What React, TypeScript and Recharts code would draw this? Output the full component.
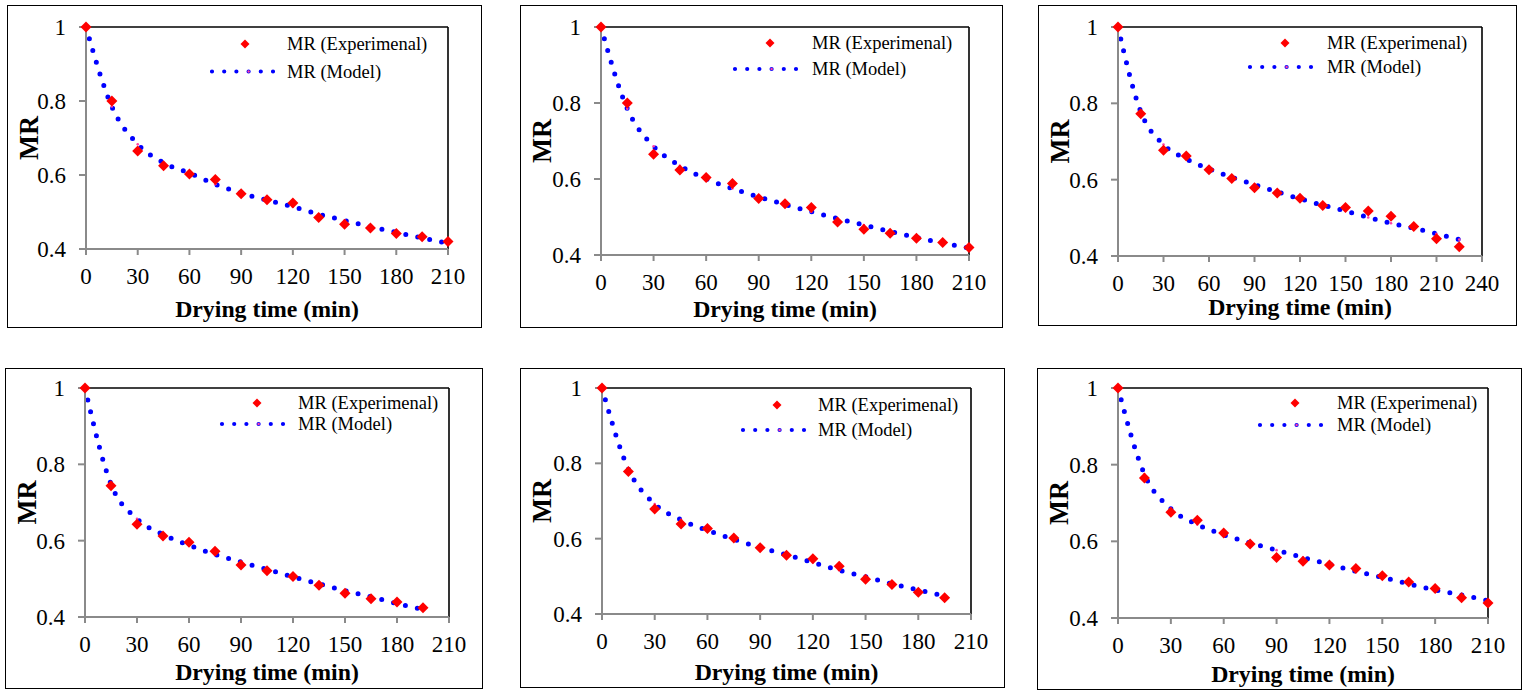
import React from 'react';
import { LineChart, Line, XAxis, YAxis, ReferenceLine, Customized } from 'recharts';

// ---------- data ----------
const TIME_210 = [0, 15, 30, 45, 60, 75, 90, 105, 120, 135, 150, 165, 180, 195, 210];
const TIME_225 = [0, 15, 30, 45, 60, 75, 90, 105, 120, 135, 150, 165, 180, 195, 210, 225];
const TIME_195 = [0, 15, 30, 45, 60, 75, 90, 105, 120, 135, 150, 165, 180, 195];

const TICKS_210 = [0, 30, 60, 90, 120, 150, 180, 210];
const TICKS_240 = [0, 30, 60, 90, 120, 150, 180, 210, 240];
const Y_TICKS = [0.4, 0.6, 0.8, 1];

const EXP_1 = [1.0, 0.8, 0.665, 0.625, 0.603, 0.588, 0.549, 0.533, 0.524, 0.485, 0.467, 0.457, 0.442, 0.433, 0.42];
const MODEL_1 = [1.0, 0.785, 0.683, 0.633, 0.605, 0.575, 0.551, 0.532, 0.514, 0.494, 0.477, 0.46, 0.445, 0.43, 0.415];

const EXP_2 = [1.0, 0.8, 0.665, 0.624, 0.604, 0.588, 0.549, 0.535, 0.525, 0.487, 0.468, 0.457, 0.444, 0.433, 0.42];
const MODEL_2 = [1.0, 0.785, 0.686, 0.635, 0.6, 0.575, 0.553, 0.533, 0.514, 0.496, 0.479, 0.462, 0.446, 0.432, 0.418];

const EXP_3 = [1.0, 0.773, 0.677, 0.662, 0.626, 0.603, 0.579, 0.565, 0.551, 0.532, 0.527, 0.518, 0.504, 0.477, 0.445, 0.424];
const MODEL_3 = [1.0, 0.778, 0.692, 0.654, 0.628, 0.606, 0.587, 0.568, 0.55, 0.533, 0.518, 0.501, 0.486, 0.473, 0.458, 0.443];

const EXP_4 = [1.0, 0.744, 0.643, 0.612, 0.596, 0.572, 0.536, 0.521, 0.506, 0.483, 0.462, 0.448, 0.439, 0.424];
const MODEL_4 = [1.0, 0.748, 0.657, 0.616, 0.588, 0.564, 0.544, 0.525, 0.505, 0.487, 0.469, 0.453, 0.435, 0.42];

const EXP_5 = [1.0, 0.778, 0.679, 0.639, 0.627, 0.602, 0.576, 0.556, 0.547, 0.527, 0.492, 0.478, 0.458, 0.443];
const MODEL_5 = [1.0, 0.785, 0.692, 0.65, 0.622, 0.598, 0.577, 0.557, 0.537, 0.516, 0.499, 0.48, 0.464, 0.448];

const EXP_6 = [1.0, 0.765, 0.676, 0.655, 0.622, 0.593, 0.558, 0.548, 0.538, 0.529, 0.51, 0.494, 0.477, 0.453, 0.439];
const MODEL_6 = [1.0, 0.775, 0.685, 0.644, 0.617, 0.596, 0.577, 0.558, 0.54, 0.522, 0.506, 0.489, 0.473, 0.46, 0.445];

const X_LABEL = 'Drying time (min)';
const Y_LABEL = 'MR';
const LEGEND_EXP = 'MR (Experimenal)';
const LEGEND_MODEL = 'MR (Model)';

// ---------- styling / layout ----------
const FONT = '"Liberation Serif", "Times New Roman", Times, serif';
const AXIS_GRAY = '#8a8a8a';
const RED = '#ff0000';
const BLUE = '#0000ff';
const PINK = '#ff3fa8';

type Box = { x: number; y: number; w: number; h: number };
type Plot = { l: number; t: number; r: number; b: number };
type Leg = { dx: number; ey: number; lx: number; my: number; tx: number };
type PanelCfg = {
  times: number[];
  exp: number[];
  model: number[];
  xMax: number;
  xTicks: number[];
  box: Box;
  plot: Plot;
  labelY: number;
  legend: Leg;
};

const PANELS: PanelCfg[] = [
  {
    times: TIME_210, exp: EXP_1, model: MODEL_1, xMax: 210, xTicks: TICKS_210,
    box: { x: 7, y: 5, w: 475, h: 323 }, plot: { l: 86, t: 27, r: 448, b: 249 }, labelY: 312,
    legend: { dx: 238, ey: 39, lx: 205, my: 66.5, tx: 280 },
  },
  {
    times: TIME_210, exp: EXP_2, model: MODEL_2, xMax: 210, xTicks: TICKS_210,
    box: { x: 520, y: 5, w: 483, h: 323 }, plot: { l: 601, t: 27, r: 969, b: 255 }, labelY: 312,
    legend: { dx: 250, ey: 38, lx: 215, my: 64, tx: 292 },
  },
  {
    times: TIME_225, exp: EXP_3, model: MODEL_3, xMax: 240, xTicks: TICKS_240,
    box: { x: 1038, y: 5, w: 479, h: 321 }, plot: { l: 1118, t: 27, r: 1482, b: 256 }, labelY: 310,
    legend: { dx: 247, ey: 38, lx: 212, my: 62, tx: 289 },
  },
  {
    times: TIME_195, exp: EXP_4, model: MODEL_4, xMax: 210, xTicks: TICKS_210,
    box: { x: 5, y: 368, w: 478, h: 321 }, plot: { l: 85, t: 388, r: 449, b: 617 }, labelY: 312,
    legend: { dx: 252, ey: 35, lx: 217, my: 56, tx: 293 },
  },
  {
    times: TIME_195, exp: EXP_5, model: MODEL_5, xMax: 210, xTicks: TICKS_210,
    box: { x: 520, y: 368, w: 485, h: 320 }, plot: { l: 602, t: 388, r: 971, b: 614 }, labelY: 312,
    legend: { dx: 257, ey: 37, lx: 223, my: 62, tx: 298 },
  },
  {
    times: TIME_210, exp: EXP_6, model: MODEL_6, xMax: 210, xTicks: TICKS_210,
    box: { x: 1037, y: 368, w: 485, h: 322 }, plot: { l: 1118, t: 388, r: 1488, b: 618 }, labelY: 314,
    legend: { dx: 258, ey: 35, lx: 223, my: 57, tx: 300 },
  },
];

const diamondPoints = (cx: number, cy: number, s: number) =>
  `${cx},${cy - s} ${cx + s},${cy} ${cx},${cy + s} ${cx - s},${cy}`;

const DiamondDot = (props: any) => {
  const { cx, cy, index } = props;
  if (cx == null || cy == null) return <g key={`d-${index}`} />;
  return <polygon key={`d-${index}`} points={diamondPoints(cx, cy, 5.5)} fill={RED} />;
};

const ModelDot = (props: any) => {
  const { cx, cy, index } = props;
  if (cx == null || cy == null) return <g key={`m-${index}`} />;
  return <circle key={`m-${index}`} cx={cx} cy={cy} r={1.3} fill={PINK} />;
};

function Panel({ cfg }: { cfg: PanelCfg }) {
  const { box, plot, legend } = cfg;
  const data = cfg.times.map((t, i) => ({ t, exp: cfg.exp[i], model: cfg.model[i] }));
  const yAxisWidth = plot.l - box.x;
  const xAxisHeight = box.y + box.h - plot.b;
  const cxLabel = (plot.l + plot.r) / 2 - box.x;
  const cyLabel = (plot.t + plot.b) / 2 - box.y;

  const Overlay = () => (
    <g fontFamily={FONT}>
      <text x={cxLabel} y={cfg.labelY} textAnchor="middle" fontWeight="bold" fontSize={23.8} fill="#000">
        {X_LABEL}
      </text>
      <text
        x={31}
        y={cyLabel}
        textAnchor="middle"
        fontWeight="bold"
        fontSize={26.5}
        fill="#000"
        transform={`rotate(-90, 31, ${cyLabel})`}
      >
        {Y_LABEL}
      </text>
      <polygon points={diamondPoints(legend.dx, legend.ey, 4.5)} fill={RED} />
      <text x={legend.tx} y={legend.ey} dy="0.35em" fontSize={18.5} fill="#000">
        {LEGEND_EXP}
      </text>
      <line
        x1={legend.lx}
        x2={legend.lx + 61.2}
        y1={legend.my}
        y2={legend.my}
        stroke={BLUE}
        strokeWidth={4.2}
        strokeDasharray="0 12.2"
        strokeLinecap="round"
      />
      <circle cx={legend.lx + 36.6} cy={legend.my} r={1.2} fill={PINK} />
      <text x={legend.tx} y={legend.my} dy="0.35em" fontSize={18.5} fill="#000">
        {LEGEND_MODEL}
      </text>
    </g>
  );

  return (
    <>
      <div
        style={{
          position: 'absolute',
          left: box.x,
          top: box.y,
          width: box.w,
          height: box.h,
          border: '1.5px solid #000',
          boxSizing: 'border-box',
        }}
      />
      <div style={{ position: 'absolute', left: box.x, top: box.y, width: box.w, height: box.h }}>
        <LineChart
          width={box.w}
          height={box.h}
          data={data}
          margin={{ top: plot.t - box.y, right: box.x + box.w - plot.r, left: 0, bottom: 0 }}
          style={{ fontFamily: FONT }}
        >
          <XAxis
            type="number"
            dataKey="t"
            domain={[0, cfg.xMax]}
            ticks={cfg.xTicks}
            interval={0}
            height={xAxisHeight}
            tickSize={6}
            tickMargin={13}
            axisLine={{ stroke: AXIS_GRAY, strokeWidth: 2 }}
            tickLine={{ stroke: AXIS_GRAY, strokeWidth: 2 }}
            tick={{ fontSize: 23, fill: '#000', fontFamily: FONT }}
          />
          <YAxis
            type="number"
            domain={[0.4, 1]}
            ticks={Y_TICKS}
            interval={0}
            width={yAxisWidth}
            tickSize={7}
            tickMargin={13}
            tickFormatter={(v: number) => String(v)}
            axisLine={{ stroke: AXIS_GRAY, strokeWidth: 2 }}
            tickLine={{ stroke: AXIS_GRAY, strokeWidth: 2 }}
            tick={{ fontSize: 23, fill: '#000', fontFamily: FONT }}
          />
          <ReferenceLine y={1} stroke="#000" strokeWidth={1.6} />
          <ReferenceLine x={cfg.xMax} stroke="#000" strokeWidth={1.6} />
          <Line
            type="monotone"
            dataKey="model"
            stroke={BLUE}
            strokeWidth={5}
            strokeDasharray="0 12.2"
            strokeLinecap="round"
            dot={ModelDot}
            activeDot={false}
            isAnimationActive={false}
          />
          <Line
            type="linear"
            dataKey="exp"
            stroke="none"
            dot={DiamondDot}
            activeDot={false}
            isAnimationActive={false}
          />
          <Customized component={Overlay} />
        </LineChart>
      </div>
    </>
  );
}

export default function App() {
  return (
    <div
      style={{
        position: 'absolute',
        left: 0,
        top: 0,
        width: 1525,
        height: 693,
        background: '#fff',
        fontFamily: FONT,
      }}
    >
      {PANELS.map((p, i) => (
        <Panel key={i} cfg={p} />
      ))}
    </div>
  );
}
